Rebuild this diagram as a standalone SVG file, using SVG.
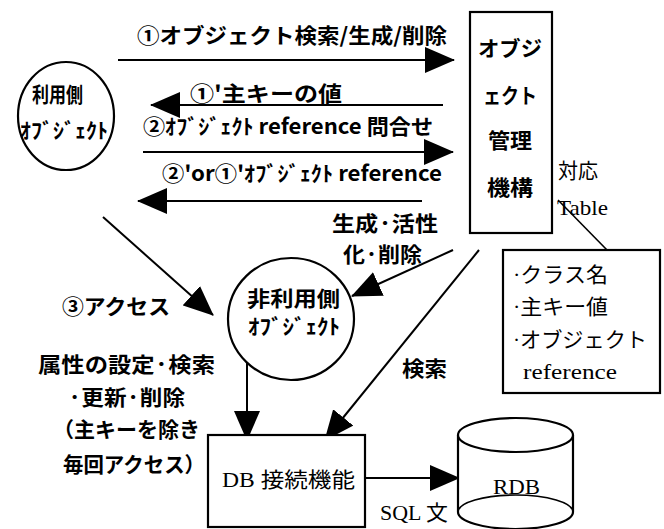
<svg xmlns="http://www.w3.org/2000/svg" width="664" height="529" viewBox="0 0 664 529">
<style>
  .g { font-family: "Noto Sans CJK JP", "Noto Sans", sans-serif; font-weight: bold; font-size: 21px; fill: #000; dominant-baseline: central; }
  .s { font-family: "Liberation Serif", "Noto Sans CJK JP", serif; font-size: 21px; fill: #000; dominant-baseline: central; }
  .c { stroke: #000; stroke-width: 2; fill: none; marker-end: url(#ah); }
  .shape { stroke: #000; stroke-width: 2.2; fill: #fff; }
  .ln { stroke: #000; stroke-width: 1.6; fill: none; }
</style>
<defs>
  <marker id="ah" viewBox="0 0 30 26" refX="29" refY="13" markerWidth="30" markerHeight="26" markerUnits="userSpaceOnUse" orient="auto">
    <path d="M0,0 L30,13 L0,26 z" fill="#000"/>
  </marker>
</defs>
<rect width="664" height="529" fill="#fff"/>

<g id="connectors">
  <line class="c" x1="118" y1="60" x2="454" y2="60"/>
  <line class="c" x1="443" y1="105" x2="151" y2="105"/>
  <line class="c" x1="143" y1="152" x2="453" y2="152"/>
  <line class="c" x1="422" y1="201" x2="138" y2="201"/>
  <line class="c" x1="103" y1="217" x2="213" y2="315"/>
  <line class="c" x1="453" y1="250" x2="352" y2="296"/>
  <line class="c" x1="479" y1="250" x2="325" y2="440"/>
  <line class="c" x1="247" y1="345" x2="247" y2="440"/>
  <line class="c" x1="365" y1="478" x2="459" y2="478"/>
  <line class="ln" x1="558" y1="200" x2="607" y2="250"/>
</g>

<g id="labels">
  <text class="g" x="137" y="34" textLength="310" lengthAdjust="spacingAndGlyphs">①オブジェクト検索/生成/削除</text>
  <text class="g" x="190" y="92" textLength="152" lengthAdjust="spacingAndGlyphs">①'主キーの値</text>
  <text class="g" x="143" y="125" textLength="290" lengthAdjust="spacingAndGlyphs">②ｵﾌﾞｼﾞｪｸﾄ reference 問合せ</text>
  <text class="g" x="162" y="172" textLength="280" lengthAdjust="spacingAndGlyphs">②'or①'ｵﾌﾞｼﾞｪｸﾄ reference</text>
  <text class="g" x="332" y="222" textLength="106" lengthAdjust="spacingAndGlyphs">生成·活性</text>
  <text class="g" x="343" y="253" textLength="79" lengthAdjust="spacingAndGlyphs">化·削除</text>
  <text class="g" x="402" y="367" textLength="45" lengthAdjust="spacingAndGlyphs">検索</text>
  <text class="g" x="62" y="305" textLength="108" lengthAdjust="spacingAndGlyphs">③アクセス</text>
  <text class="g" x="38" y="363" textLength="177" lengthAdjust="spacingAndGlyphs">属性の設定·検索</text>
  <text class="g" x="68" y="396" textLength="117" lengthAdjust="spacingAndGlyphs">·更新·削除</text>
  <text class="g" x="53" y="428" textLength="147" lengthAdjust="spacingAndGlyphs">（主キーを除き</text>
  <text class="g" x="63" y="463" textLength="142" lengthAdjust="spacingAndGlyphs">毎回アクセス）</text>
  <text class="s" x="380" y="513" font-size="20" textLength="68" lengthAdjust="spacingAndGlyphs">SQL 文</text>
  <text class="s" x="558" y="171" font-size="20" textLength="40" lengthAdjust="spacingAndGlyphs">対応</text>
  <text class="s" x="557" y="208" font-size="22" textLength="51" lengthAdjust="spacingAndGlyphs">Table</text>
</g>

<g id="user-object">
  <ellipse class="shape" cx="66" cy="116" rx="48" ry="54"/>
  <text class="g" x="32" y="93" font-size="19" textLength="51" lengthAdjust="spacingAndGlyphs">利用側</text>
  <text class="g" x="20" y="129" font-size="19" textLength="88" lengthAdjust="spacingAndGlyphs">ｵﾌﾞｼﾞｪｸﾄ</text>
</g>

<g id="object-manager">
  <rect class="shape" x="470" y="12" width="82" height="221"/>
  <text class="g" x="478" y="47" textLength="64" lengthAdjust="spacingAndGlyphs">オブジ</text>
  <text class="g" x="483" y="94" textLength="54" lengthAdjust="spacingAndGlyphs">ェクト</text>
  <text class="g" x="488" y="139" textLength="44" lengthAdjust="spacingAndGlyphs">管理</text>
  <text class="g" x="487" y="186" textLength="46" lengthAdjust="spacingAndGlyphs">機構</text>
</g>

<g id="mapping-table">
  <rect class="shape" x="503" y="250" width="157" height="143"/>
  <text class="s" x="513" y="275" font-size="20" textLength="95" lengthAdjust="spacingAndGlyphs">·クラス名</text>
  <text class="s" x="513" y="307" font-size="20" textLength="95" lengthAdjust="spacingAndGlyphs">·主キー値</text>
  <text class="s" x="513" y="340" font-size="20" textLength="134" lengthAdjust="spacingAndGlyphs">·オブジェクト</text>
  <text class="s" x="523" y="372" font-size="21" textLength="94" lengthAdjust="spacingAndGlyphs">reference</text>
</g>

<g id="non-user-object">
  <ellipse class="shape" cx="291" cy="319" rx="63" ry="61"/>
  <text class="g" x="247" y="297" font-size="20" textLength="93" lengthAdjust="spacingAndGlyphs">非利用側</text>
  <text class="g" x="248" y="325" font-size="20" textLength="92" lengthAdjust="spacingAndGlyphs">ｵﾌﾞｼﾞｪｸﾄ</text>
</g>

<g id="db-connector">
  <rect class="shape" x="208" y="435" width="157" height="92"/>
  <text class="s" x="222" y="480" font-size="22" textLength="133" lengthAdjust="spacingAndGlyphs">DB 接続機能</text>
</g>

<g id="rdb">
  <path class="shape" d="M458,435 L458,512 A57.5,17 0 0 0 573,512 L573,435"/>
  <path class="ln" stroke-width="2.2" d="M458,512 A57.5,17 0 0 1 573,512"/>
  <ellipse class="shape" cx="515.5" cy="435" rx="57.5" ry="17"/>
  <text class="s" x="493" y="487" font-size="22" textLength="47" lengthAdjust="spacingAndGlyphs">RDB</text>
</g>
</svg>
